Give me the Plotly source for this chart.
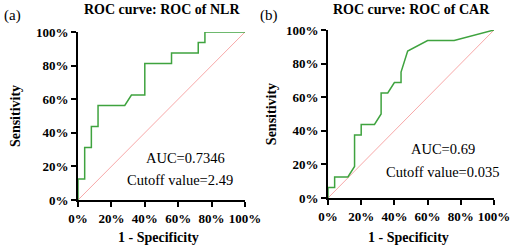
import plotly.graph_objects as go

# Data, values in fraction units
nlr_fpr = [0, 0, 0.04, 0.04, 0.08, 0.08, 0.12, 0.12, 0.28, 0.32, 0.40, 0.40, 0.56, 0.56, 0.72, 0.72, 0.76, 0.76, 1.0]
nlr_tpr = [0, 0.125, 0.125, 0.3125, 0.3125, 0.4375, 0.4375, 0.5625, 0.5625, 0.625, 0.625, 0.8125, 0.8125, 0.875, 0.875, 0.9375, 0.9375, 1.0, 1.0]

car_fpr = [0, 0, 0.04, 0.04, 0.12, 0.16, 0.16, 0.20, 0.20, 0.28, 0.32, 0.32, 0.36, 0.40, 0.44, 0.44, 0.48, 0.60, 0.76, 1.0]
car_tpr = [0, 0.0625, 0.0625, 0.125, 0.125, 0.1875, 0.375, 0.375, 0.4375, 0.4375, 0.50, 0.625, 0.625, 0.6875, 0.6875, 0.75, 0.875, 0.9375, 0.9375, 1.0]

titles = ["ROC curve: ROC of NLR", "ROC curve: ROC of CAR"]
panel_labels = ["(a)", "(b)"]
auc_texts = ["AUC=0.7346", "AUC=0.69"]
cutoff_texts = ["Cutoff value=2.49", "Cutoff value=0.035"]
x_title = "1 - Specificity"
y_title = "Sensitivity"
tick_vals = [0, 0.2, 0.4, 0.6, 0.8, 1.0]
tick_text = ["0%", "20%", "40%", "60%", "80%", "100%"]

W, H = 512, 247
GREEN = "#3fa33f"
PINK = "#f7a8a8"
FONT = "Liberation Serif, Times New Roman, DejaVu Serif, serif"

def px(x):
    return x / W

def py(y):
    return 1 - y / H

fig = go.Figure()

# panel geometry in pixels: (left, right, top, bottom)
panels = [(78, 245, 32, 200), (328, 494, 30, 198)]
curves = [(nlr_fpr, nlr_tpr), (car_fpr, car_tpr)]
y_standoff = [12, 6]

for i, ((l, r, t, b), (fx, ty)) in enumerate(zip(panels, curves)):
    sx = "" if i == 0 else str(i + 1)
    fig.add_trace(go.Scatter(x=[0, 1], y=[0, 1], mode="lines",
                             line=dict(color=PINK, width=1), xaxis="x" + sx, yaxis="y" + sx,
                             showlegend=False, hoverinfo="skip"))
    fig.add_trace(go.Scatter(x=fx, y=ty, mode="lines",
                             line=dict(color=GREEN, width=1.5), xaxis="x" + sx, yaxis="y" + sx,
                             showlegend=False))
    axis_common = dict(range=[0, 1], tickvals=tick_vals, ticktext=tick_text,
                       showline=True, linecolor="black", linewidth=2,
                       ticks="outside", ticklen=5, tickwidth=1.5, tickcolor="black",
                       showgrid=False, zeroline=False, fixedrange=True, automargin=False,
                       tickfont=dict(family=FONT, size=13, color="black", weight="bold"))
    fig.update_layout(**{
        "xaxis" + sx: dict(domain=[px(l), px(r)], anchor="y" + sx, **axis_common),
        "yaxis" + sx: dict(domain=[py(b), py(t)], anchor="x" + sx,
                           title=dict(text="<b>" + y_title + "</b>", standoff=y_standoff[i],
                                      font=dict(family=FONT, size=14, color="black")),
                           **axis_common),
    })
    cx = (l + r) / 2
    fig.add_annotation(x=px(cx), y=py(9), xref="paper", yref="paper",
                       text="<b>" + titles[i] + "</b>", showarrow=False,
                       font=dict(family=FONT, size=14, color="black"), xanchor="center", yanchor="middle")
    fig.add_annotation(x=px(2 if i == 0 else 258), y=py(15), xref="paper", yref="paper",
                       text=panel_labels[i], showarrow=False,
                       font=dict(family=FONT, size=15, color="black"), xanchor="left", yanchor="middle")
    fig.add_annotation(x=px(cx - 3), y=py(237), xref="paper", yref="paper",
                       text="<b>" + x_title + "</b>", showarrow=False,
                       font=dict(family=FONT, size=14, color="black"), xanchor="center", yanchor="middle")
    auc_pos = [(185, 158), (443, 149)][i]
    cut_pos = [(180, 180), (442, 172)][i]
    fig.add_annotation(x=px(auc_pos[0]), y=py(auc_pos[1]), xref="paper", yref="paper",
                       text=auc_texts[i], showarrow=False,
                       font=dict(family=FONT, size=14.5, color="black"), xanchor="center", yanchor="middle")
    fig.add_annotation(x=px(cut_pos[0]), y=py(cut_pos[1]), xref="paper", yref="paper",
                       text=cutoff_texts[i], showarrow=False,
                       font=dict(family=FONT, size=14.5, color="black"), xanchor="center", yanchor="middle")

fig.update_layout(width=W, height=H, margin=dict(l=0, r=0, t=0, b=0),
                  paper_bgcolor="white", plot_bgcolor="white", showlegend=False,
                  font=dict(family=FONT))

fig.write_html("out.html", include_plotlyjs=True, config={"displayModeBar": False},
               post_script="document.body.style.margin='0';document.body.style.overflow='hidden';")
